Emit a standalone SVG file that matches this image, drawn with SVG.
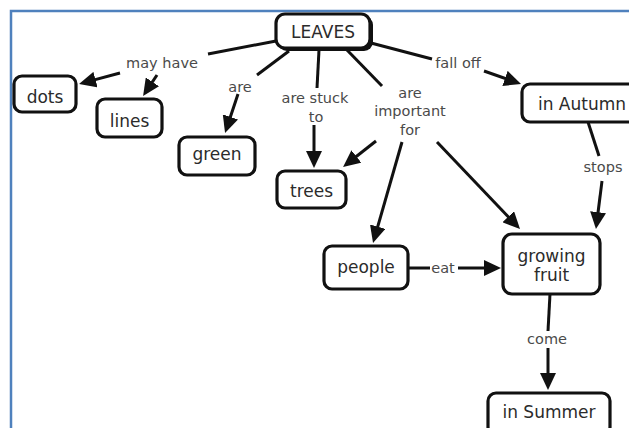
<svg xmlns="http://www.w3.org/2000/svg" width="629" height="428" viewBox="0 0 629 428">
  <style>
    .box { fill: #ffffff; stroke: #111111; stroke-width: 3.2; }
    .shadow { fill: #111111; }
    .ntext { font-family: "DejaVu Sans", Verdana, sans-serif; font-size: 17px; fill: #2b2b2b; text-anchor: middle; }
    .ltext { font-family: "DejaVu Sans", Verdana, sans-serif; font-size: 14.5px; fill: #4a4a4a; text-anchor: middle; }
    .link { stroke: #111111; stroke-width: 3; fill: none; }
    .arrow { stroke: #111111; stroke-width: 3; fill: none; marker-end: url(#head); }
  </style>
  <defs>
    <marker id="head" markerUnits="userSpaceOnUse" markerWidth="18" markerHeight="16" viewBox="0 0 18 16" refX="7" refY="8" orient="auto">
      <path d="M0,0 L17,8 L0,16 Z" fill="#111111"/>
    </marker>
  </defs>

  <rect width="629" height="428" fill="#ffffff"/>
  <!-- frame -->
  <path d="M11,428 V11 H629" fill="none" stroke="#4f81bd" stroke-width="2.5"/>

  <!-- connectors -->
  <g id="connectors">
    <line class="link" x1="276" y1="41" x2="208" y2="54"/>
    <line class="arrow" x1="120" y1="73" x2="88.7" y2="81.4"/>
    <line class="arrow" x1="157" y1="75" x2="148.6" y2="87.7"/>
    <line class="link" x1="289" y1="51" x2="257" y2="75"/>
    <line class="arrow" x1="238" y1="94" x2="228.2" y2="123.5"/>
    <line class="link" x1="319" y1="50" x2="317" y2="88"/>
    <line class="arrow" x1="314" y1="125" x2="314" y2="158"/>
    <line class="link" x1="347" y1="50" x2="382" y2="86"/>
    <line class="arrow" x1="376" y1="141" x2="350.9" y2="160.8"/>
    <line class="arrow" x1="402" y1="142" x2="375.8" y2="233.4"/>
    <line class="arrow" x1="437" y1="142" x2="513.1" y2="221.8"/>
    <line class="link" x1="371" y1="43" x2="432" y2="59"/>
    <line class="arrow" x1="484" y1="71" x2="511.6" y2="80.7"/>
    <line class="link" x1="588" y1="122" x2="599" y2="156"/>
    <line class="arrow" x1="602" y1="181" x2="597.2" y2="219.1"/>
    <line class="link" x1="408" y1="268" x2="430" y2="268"/>
    <line class="arrow" x1="458" y1="268" x2="491" y2="268"/>
    <line class="link" x1="550" y1="294" x2="548" y2="331"/>
    <line class="arrow" x1="548" y1="348" x2="548" y2="380"/>
  </g>

  <!-- connector labels -->
  <g id="labels">
    <text class="ltext" x="162" y="68">may have</text>
    <text class="ltext" x="240" y="92">are</text>
    <text class="ltext" x="315" y="103">are stuck</text>
    <text class="ltext" x="316" y="122">to</text>
    <text class="ltext" x="410" y="98">are</text>
    <text class="ltext" x="410" y="116">important</text>
    <text class="ltext" x="410" y="135">for</text>
    <text class="ltext" x="458" y="68">fall off</text>
    <text class="ltext" x="603" y="172">stops</text>
    <text class="ltext" x="443" y="273">eat</text>
    <text class="ltext" x="547" y="344">come</text>
  </g>

  <!-- nodes -->
  <g id="leaves">
    <rect class="shadow" x="278" y="16" width="95" height="35" rx="9"/>
    <rect class="box" x="276" y="14" width="94" height="34" rx="9"/>
    <text class="ntext" x="323" y="38">LEAVES</text>
  </g>
  <g id="dots">
    <rect class="box" x="14" y="76" width="62" height="36" rx="8"/>
    <text class="ntext" x="45" y="103">dots</text>
  </g>
  <g id="lines">
    <rect class="box" x="97" y="99" width="65" height="38" rx="8"/>
    <text class="ntext" x="129.5" y="127">lines</text>
  </g>
  <g id="green">
    <rect class="box" x="179" y="137" width="76" height="38" rx="8"/>
    <text class="ntext" x="217" y="160">green</text>
  </g>
  <g id="trees">
    <rect class="box" x="277" y="171" width="69" height="37" rx="8"/>
    <text class="ntext" x="311.5" y="197">trees</text>
  </g>
  <g id="in-autumn">
    <rect class="box" x="522" y="84" width="125" height="38" rx="8"/>
    <text class="ntext" x="582" y="110">in Autumn</text>
  </g>
  <g id="people">
    <rect class="box" x="324" y="246" width="84" height="43" rx="8"/>
    <text class="ntext" x="366" y="273">people</text>
  </g>
  <g id="growing-fruit">
    <rect class="box" x="503" y="234" width="97" height="60" rx="9"/>
    <text class="ntext" x="551.5" y="262">growing</text>
    <text class="ntext" x="551.5" y="281">fruit</text>
  </g>
  <g id="in-summer">
    <rect class="box" x="488" y="393" width="122" height="42" rx="8"/>
    <text class="ntext" x="549" y="418">in Summer</text>
  </g>
</svg>
